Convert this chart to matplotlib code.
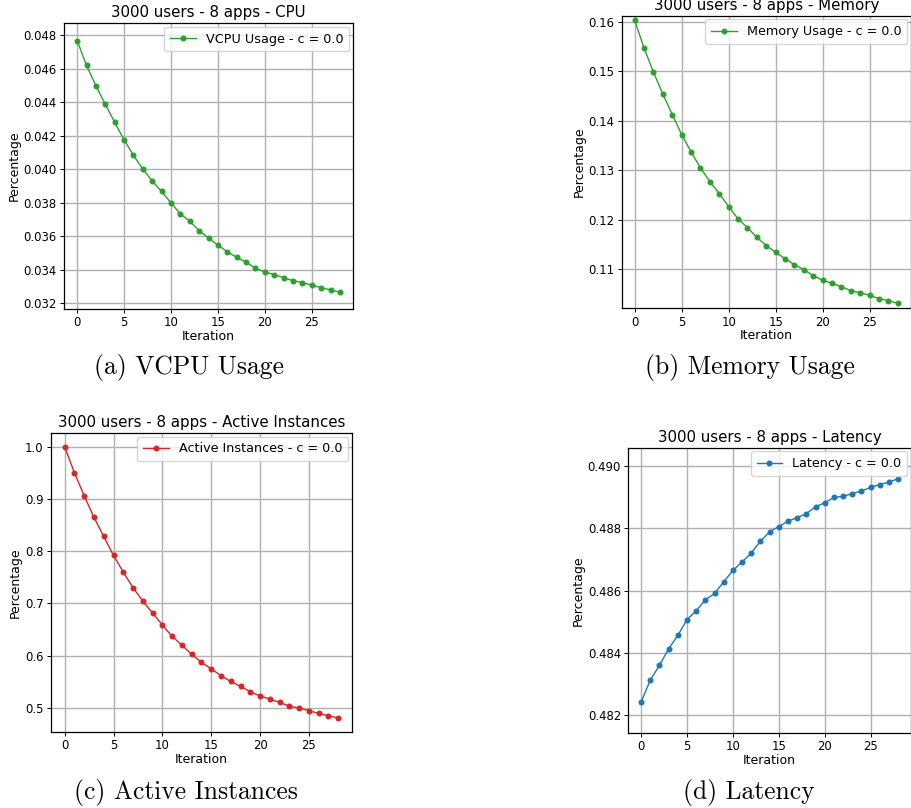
import matplotlib
matplotlib.use("Agg")
import matplotlib.pyplot as plt
from matplotlib.ticker import MultipleLocator

# values
iterations = list(range(29))

vcpu_usage = [0.04768, 0.04620, 0.04499, 0.04388, 0.04281, 0.04176, 0.04084, 0.04001, 0.03930, 0.03868,
              0.03799, 0.03734, 0.03690, 0.03634, 0.03589, 0.03547, 0.03508, 0.03474, 0.03445, 0.03410,
              0.03387, 0.03371, 0.03353, 0.03335, 0.03323, 0.03309, 0.03293, 0.03280, 0.03266]

memory_usage = [0.1603, 0.15468, 0.14982, 0.14538, 0.14127, 0.13722, 0.13372, 0.13049, 0.12772, 0.12530,
                0.12267, 0.12020, 0.11842, 0.11647, 0.11478, 0.11344, 0.11216, 0.11094, 0.10993, 0.10872,
                0.10778, 0.10717, 0.10650, 0.10569, 0.10528, 0.10474, 0.10407, 0.10367, 0.10313]

active_instances = [1.0, 0.9502, 0.9061, 0.8646, 0.8282, 0.7918, 0.7599, 0.7299, 0.7043, 0.6814,
                    0.6584, 0.6367, 0.6200, 0.6022, 0.5868, 0.5747, 0.5613, 0.5504, 0.5409, 0.5307,
                    0.5223, 0.5166, 0.5102, 0.5032, 0.4994, 0.4943, 0.4891, 0.4847, 0.4802]

latency = [0.48242, 0.48312, 0.48360, 0.48413, 0.48456, 0.48507, 0.48535, 0.48570, 0.48591, 0.48628,
           0.48665, 0.48692, 0.48721, 0.48759, 0.48789, 0.48806, 0.48823, 0.48835, 0.48847, 0.48870,
           0.48882, 0.48900, 0.48903, 0.48912, 0.48920, 0.48932, 0.48941, 0.48949, 0.48960]

GREEN = "#2ca02c"
RED = "#d62728"
BLUE = "#1f77b4"

# panel: (axes rect, title, legend label, data, color, ylim, ytick step, caption, caption pos)
PANELS = [
    ([0.0702, 0.6176, 0.3169, 0.3540], "3000 users - 8 apps - CPU", "VCPU Usage - c = 0.0",
     vcpu_usage, GREEN, (0.03166, 0.04874), 0.002, "(a) VCPU Usage", (189 / 912, 1 - 368 / 808)),
    ([0.6815, 0.6184, 0.3174, 0.3624], "3000 users - 8 apps - Memory", "Memory Usage - c = 0.0",
     memory_usage, GREEN, (0.10212, 0.16127), 0.01, "(b) Memory Usage", (750 / 912, 1 - 368 / 808)),
    ([0.0559, 0.0944, 0.3300, 0.3700], "3000 users - 8 apps - Active Instances", "Active Instances - c = 0.0",
     active_instances, RED, (0.454, 1.027), 0.1, "(c) Active Instances", (186 / 912, 1 - 792 / 808)),
    ([0.6889, 0.0928, 0.3100, 0.3533], "3000 users - 8 apps - Latency", "Latency - c = 0.0",
     latency, BLUE, (0.48142, 0.4906), 0.002, "(d) Latency", (749 / 912, 1 - 792 / 808)),
]

fig = plt.figure(figsize=(9.12, 8.08), dpi=100, facecolor="white")

for rect, title, label, values, color, ylim, ystep, caption, cap_xy in PANELS:
    ax = fig.add_axes(rect)
    ax.plot(iterations, values, color=color, marker="o", markersize=3.3, linewidth=1.0, label=label)
    ax.set_ylim(*ylim)
    ax.yaxis.set_major_locator(MultipleLocator(ystep))
    ax.xaxis.set_major_locator(MultipleLocator(5))
    ax.grid(True, color="#b0b0b0", linewidth=1.0)
    ax.set_title(title, fontsize=10.8, pad=4.0)
    ax.set_xlabel("Iteration", fontsize=9, labelpad=0.5)
    ax.set_ylabel("Percentage", fontsize=9, labelpad=2)
    ax.tick_params(labelsize=8.4, length=2.8, width=0.7, pad=2.5)
    for spine in ax.spines.values():
        spine.set_linewidth(0.9)
    ax.legend(loc="upper right", fontsize=9.2, borderpad=0.45, borderaxespad=0.3,
              handlelength=2.0, labelspacing=0.3)
    fig.text(cap_xy[0], cap_xy[1], caption, family="cmr10", fontsize=18.4, ha="center", va="center")

fig.savefig("out.png", dpi=100, facecolor="white")
